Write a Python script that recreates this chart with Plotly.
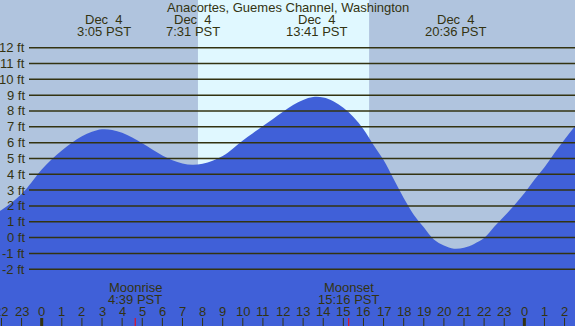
import plotly.graph_objects as go

# ---- data (half-hour steps) ----
hours = [-2.5, -2.0, -1.5, -1.0, -0.5, 0.0, 0.5, 1.0, 1.5, 2.0, 2.5, 3.0, 3.5, 4.0, 4.5,
         5.0, 5.5, 6.0, 6.5, 7.0, 7.5, 8.0, 8.5, 9.0, 9.5, 10.0, 10.5, 11.0, 11.5, 12.0,
         12.5, 13.0, 13.5, 14.0, 14.5, 15.0, 15.5, 16.0, 16.5, 17.0, 17.5, 18.0, 18.5, 19.0,
         19.5, 20.0, 20.5, 21.0, 21.5, 22.0, 22.5, 23.0, 23.5, 24.0, 24.5, 25.0, 25.5, 26.0,
         26.5, 27.0]
tide_ft = [1.35, 1.75, 2.2, 2.75, 3.5, 4.3, 4.95, 5.5, 6.0, 6.4, 6.68, 6.84, 6.8, 6.62, 6.32,
           5.96, 5.57, 5.19, 4.88, 4.68, 4.6, 4.66, 4.85, 5.15, 5.62, 6.14, 6.6, 7.05, 7.5, 7.95,
           8.38, 8.7, 8.88, 8.85, 8.62, 8.2, 7.62, 6.85, 5.85, 4.9, 3.7, 2.5, 1.45, 0.65,
           -0.12, -0.5, -0.7, -0.64, -0.4, -0.03, 0.68, 1.35, 2.05, 2.8, 3.65, 4.45, 5.35, 6.2,
           7.0, 7.7]

extreme_hours = [3.083, 7.517, 13.683, 20.6]
extreme_dates = ["Dec\u00a0\u00a04", "Dec\u00a0\u00a04", "Dec\u00a0\u00a04", "Dec\u00a0\u00a04"]
extreme_times = ["3:05 PST", "7:31 PST", "13:41 PST", "20:36 PST"]

sunrise_h = 7.77
sunset_h = 16.28

moon_hours = [4.65, 15.267]
moon_names = ["Moonrise", "Moonset"]
moon_times = ["4:39 PST", "15:16 PST"]

ft_levels = list(range(-2, 13))
ft_labels = [f"{v} ft" for v in ft_levels]

tick_hours = list(range(-2, 27))
tick_labels = [str(h % 24) for h in tick_hours]

title_text = "Anacortes, Guemes Channel, Washington"

# ---- styling ----
W, H = 575, 326
NIGHT = "#b0c4de"
DAY = "#e0f8ff"
WATER = "#4060d8"
INK = "#333311"
FONT = "Liberation Sans"
FS = 13

XR = [-2.0736, 26.519]
YR = [-5.584, 15.01]

fig = go.Figure()
fig.add_trace(go.Scatter(x=hours, y=[YR[0] - 5] * len(hours), mode="lines",
                         line=dict(width=0), hoverinfo="skip", showlegend=False))
fig.add_trace(go.Scatter(x=hours, y=tide_ft, mode="lines", fill="tonexty",
                         fillcolor=WATER, line=dict(width=0, shape="spline", color=WATER),
                         hoverinfo="skip", showlegend=False))

shapes = []
# daylight band
shapes.append(dict(type="rect", xref="x", yref="paper", x0=sunrise_h, x1=sunset_h, y0=0, y1=1,
                   fillcolor=DAY, line=dict(width=0), layer="below"))
# gridlines
for v in ft_levels:
    shapes.append(dict(type="line", xref="paper", yref="y", x0=29 / W, x1=1, y0=v, y1=v,
                       line=dict(color=INK, width=1.5), layer="above"))
# hour ticks
for h in tick_hours:
    shapes.append(dict(type="line", xref="x", yref="paper", x0=h, x1=h, y0=0, y1=8 / H,
                       line=dict(color=INK, width=3 if h % 24 == 0 else 1), layer="above"))
# moon ticks
for h in moon_hours:
    shapes.append(dict(type="line", xref="x", yref="paper", x0=h, x1=h, y0=0, y1=8 / H,
                       line=dict(color="#ff0000", width=1), layer="above"))

annotations = []
font = dict(family=FONT, size=FS, color=INK)
annotations.append(dict(text=title_text, xref="paper", yref="paper", x=0.5, y=1 - 7.5 / H,
                        xanchor="center", yanchor="middle", showarrow=False, font=font))
for h, d, t in zip(extreme_hours, extreme_dates, extreme_times):
    annotations.append(dict(text=d, xref="x", yref="paper", x=h, y=1 - 19.5 / H,
                            xanchor="center", yanchor="middle", showarrow=False, font=font))
    annotations.append(dict(text=t, xref="x", yref="paper", x=h, y=1 - 31.7 / H,
                            xanchor="center", yanchor="middle", showarrow=False, font=font))
for h, n, t in zip(moon_hours, moon_names, moon_times):
    annotations.append(dict(text=n, xref="x", yref="paper", x=h, y=1 - 287.5 / H,
                            xanchor="center", yanchor="middle", showarrow=False, font=font))
    annotations.append(dict(text=t, xref="x", yref="paper", x=h, y=1 - 299.5 / H,
                            xanchor="center", yanchor="middle", showarrow=False, font=font))
for v, lab in zip(ft_levels, ft_labels):
    annotations.append(dict(text=lab, xref="paper", yref="y", x=27 / W, y=v,
                            xanchor="right", yanchor="middle", showarrow=False, font=font))
for h, lab in zip(tick_hours, tick_labels):
    annotations.append(dict(text=lab, xref="x", yref="paper", x=h, y=1 - 311 / H,
                            xanchor="center", yanchor="middle", showarrow=False, font=font))

fig.update_layout(
    width=W, height=H, margin=dict(l=0, r=0, t=0, b=0),
    paper_bgcolor=NIGHT, plot_bgcolor=NIGHT,
    xaxis=dict(range=XR, visible=False, fixedrange=True),
    yaxis=dict(range=YR, visible=False, fixedrange=True),
    shapes=shapes, annotations=annotations, showlegend=False,
)
fig.write_html(
    "out.html",
    config={"displayModeBar": False},
    post_script="document.body.style.margin='0';document.body.style.overflow='hidden';"
                "document.documentElement.style.overflow='hidden';",
)
